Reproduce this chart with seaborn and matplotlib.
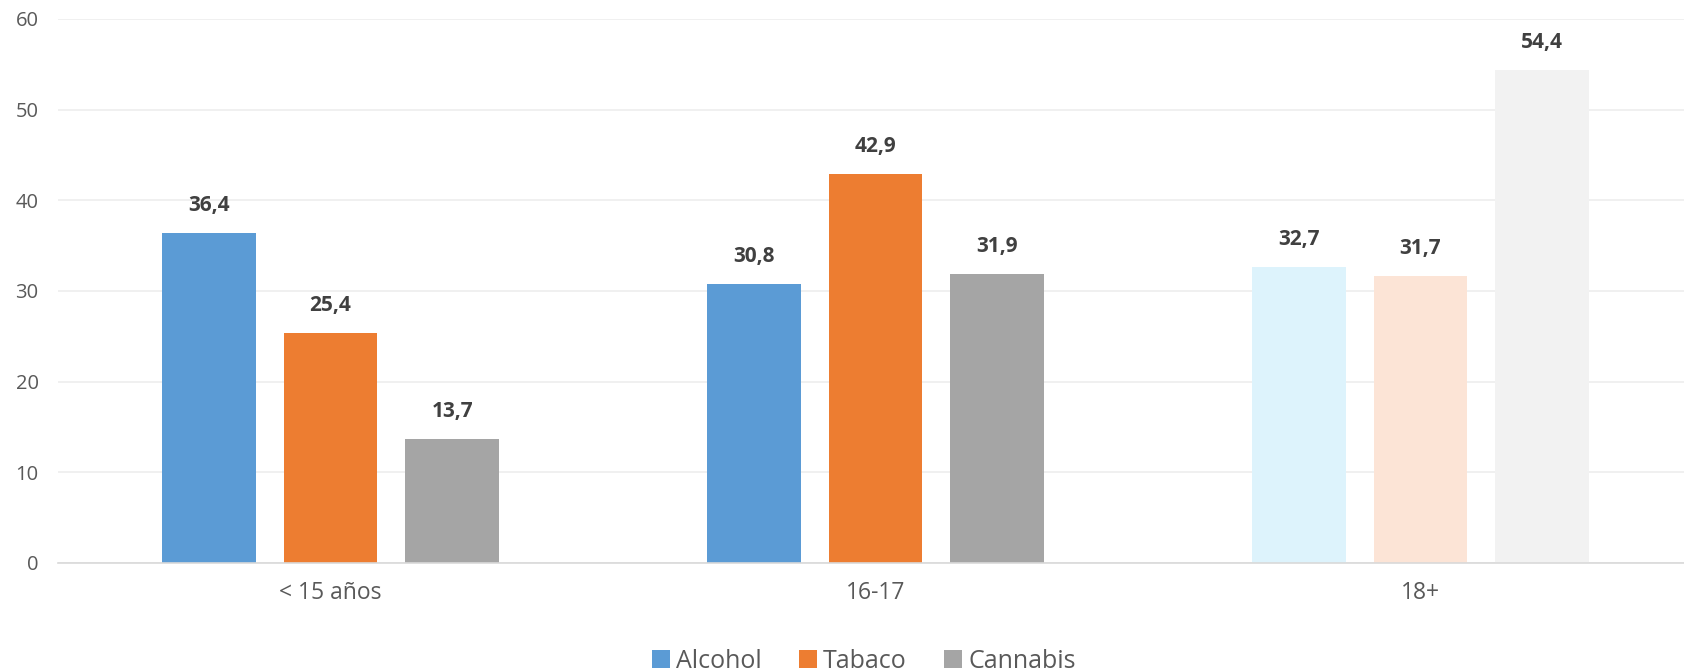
import matplotlib
matplotlib.use("Agg")
import matplotlib.pyplot as plt
import seaborn as sns
import pandas as pd
from matplotlib.patches import Patch

categories = ["< 15 años", "16-17", "18+"]
series = ["Alcohol", "Tabaco", "Cannabis"]
alcohol = [36.4, 30.8, 32.7]
tabaco = [25.4, 42.9, 31.7]
cannabis = [13.7, 31.9, 54.4]
yticks = [0, 10, 20, 30, 40, 50, 60]

base_colors = {"Alcohol": "#5B9BD5", "Tabaco": "#ED7D31", "Cannabis": "#A5A5A5"}
light_colors = {"Alcohol": "#DDF3FC", "Tabaco": "#FCE4D6", "Cannabis": "#F2F2F2"}

rows = []
for s, vals in zip(series, [alcohol, tabaco, cannabis]):
    for c, v in zip(categories, vals):
        rows.append({"cat": c, "serie": s, "val": v})
df = pd.DataFrame(rows)

sns.set_theme(style="white")
plt.rcParams['font.family'] = ['Open Sans', 'DejaVu Sans']

fig = plt.figure(figsize=(16.84, 6.72), dpi=100)
ax = fig.add_axes([58/1684, (672-563)/672, 1635/1684, (563-19)/672])

sns.barplot(data=df, x="cat", y="val", hue="serie", order=categories,
            hue_order=series, palette=base_colors, width=0.67, gap=0.23,
            ax=ax, legend=False, saturation=1)

for s, cont in zip(series, ax.containers):
    for i, p in enumerate(cont.patches):
        if categories[i] == "18+":
            p.set_facecolor(light_colors[s])
        p.set_edgecolor("none")
    ax.bar_label(cont, labels=[f"{v:.1f}".replace(".", ",") for v in cont.datavalues],
                 padding=12, fontsize=15, fontweight="bold", color="#404040")

ax.set_ylim(0, 60)
ax.set_xlim(-0.5, 2.5)
ax.set_yticks(yticks)
ax.set_yticklabels([str(t) for t in yticks])
ax.yaxis.grid(True, color="#EEEEEE", linewidth=1.2)
ax.set_axisbelow(True)
for sp in ["top", "right", "left"]:
    ax.spines[sp].set_visible(False)
ax.spines["bottom"].set_color("#D9D9D9")
ax.spines["bottom"].set_linewidth(1.2)
ax.tick_params(axis="y", length=0, labelsize=14.5, labelcolor="#595959", pad=14)
ax.tick_params(axis="x", length=0, labelsize=16.5, labelcolor="#595959", pad=13)
ax.set_xlabel("")
ax.set_ylabel("")

handles = [Patch(facecolor=base_colors[s], edgecolor="none", label=s) for s in series]
fig.legend(handles=handles, loc="center", bbox_to_anchor=(0.513, 1 - 661/672), ncol=3,
           frameon=False, fontsize=18, handlelength=0.7, handleheight=0.7,
           handletextpad=0.25, columnspacing=1.5, labelcolor="#595959")

fig.savefig("out.png", dpi=100)
